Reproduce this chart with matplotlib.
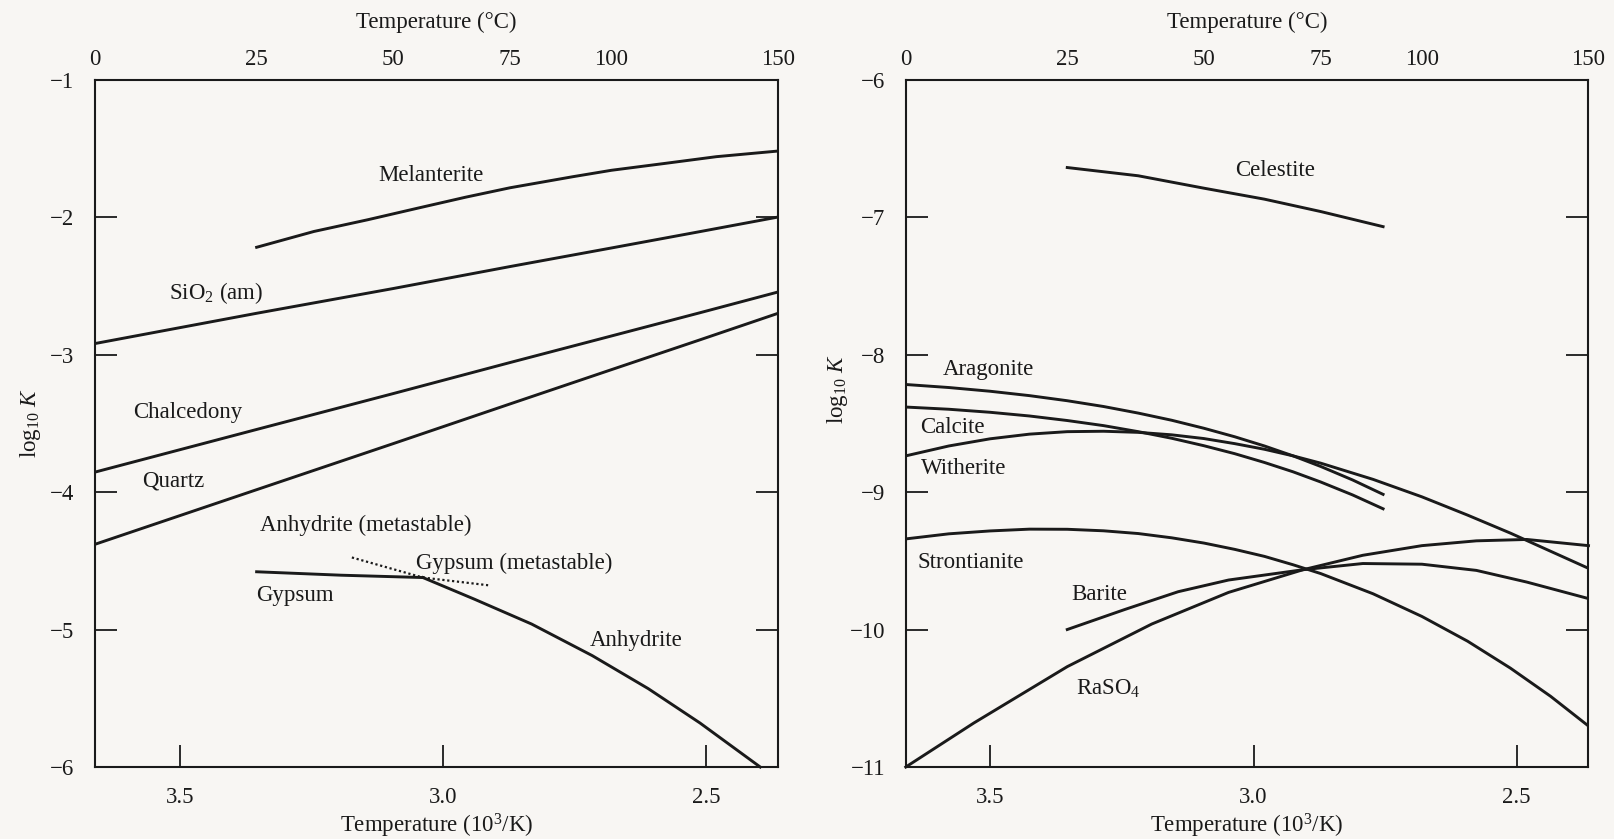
import matplotlib
matplotlib.use("Agg")
import matplotlib.pyplot as plt
import numpy as np

plt.rcParams['font.family'] = ['Liberation Serif', 'DejaVu Serif']
plt.rcParams['mathtext.fontset'] = 'custom'
plt.rcParams['mathtext.rm'] = 'Liberation Serif'
plt.rcParams['mathtext.it'] = 'Liberation Serif:italic'

# --- left panel: silica, melanterite, gypsum/anhydrite (T in degC, log10 K)
mel_t = [25, 35, 45, 55, 65, 75, 90, 100, 115, 130, 150]
mel_k = [-2.22, -2.105, -2.02, -1.935, -1.856, -1.787, -1.707, -1.66, -1.609, -1.561, -1.52]

silica_t = [0, 25, 50, 75, 100, 125, 150]
sio2_k = [-2.92, -2.70, -2.52, -2.36, -2.225, -2.106, -2.0]
chalc_k = [-3.855, -3.545, -3.284, -3.058, -2.865, -2.696, -2.545]
quartz_k = [-4.38, -3.983, -3.648, -3.359, -3.110, -2.893, -2.70]

gyp_t = [25, 40, 56]
gyp_k = [-4.58, -4.605, -4.622]
gyp_meta_t = [56, 70]
gyp_meta_k = [-4.622, -4.678]
anh_meta_t = [42, 56]
anh_meta_k = [-4.476, -4.622]
anh_t = [56, 67, 80, 95, 110, 125, 144]
anh_k = [-4.622, -4.78, -4.96, -5.19, -5.43, -5.68, -6.0]

# --- right panel: carbonates and sulfates
cel_t = [25, 37.5, 50, 62.5, 75, 90]
cel_k = [-6.64, -6.70, -6.79, -6.87, -6.96, -7.07]

carb_t = [0, 6.25, 12.5, 18.75, 25, 31.25, 37.5, 43.75, 50, 56.25, 62.5, 68.75,
          75, 82.5, 90]
arag_k = [-8.218, -8.240, -8.267, -8.299, -8.336, -8.378, -8.426, -8.478, -8.536,
          -8.598, -8.665, -8.737, -8.814, -8.912, -9.017]
calc_k = [-8.382, -8.398, -8.420, -8.447, -8.480, -8.517, -8.561, -8.609, -8.663,
          -8.721, -8.785, -8.853, -8.927, -9.021, -9.122]

full_t = [0, 6.25, 12.5, 18.75, 25, 31.25, 37.5, 43.75, 50, 56.25, 62.5, 68.75,
          75, 87.5, 100, 112.5, 125, 137.5, 150]
with_k = [-8.737, -8.665, -8.613, -8.579, -8.561, -8.558, -8.566, -8.584, -8.611,
          -8.648, -8.689, -8.737, -8.790, -8.908, -9.035, -9.168, -9.299, -9.431,
          -9.555]
stron_k = [-9.341, -9.304, -9.283, -9.270, -9.271, -9.282, -9.302, -9.333, -9.371,
           -9.417, -9.468, -9.529, -9.593, -9.740, -9.905, -10.085, -10.281,
           -10.486, -10.702]

bar_t = [25, 35, 45, 55, 71, 85, 100, 115, 130, 150]
bar_k = [-10.0, -9.855, -9.725, -9.64, -9.565, -9.52, -9.525, -9.57, -9.655, -9.775]
ra_t = [0, 10, 25, 40, 55, 71, 85, 100, 115, 130, 150]
ra_k = [-11.0, -10.68, -10.27, -9.96, -9.73, -9.565, -9.46, -9.39, -9.355, -9.345, -9.39]

top_ticks = [0, 25, 50, 75, 100, 150]
bottom_ticks = [3.5, 3.0, 2.5]

INK = '#1a1a1a'
BG = '#f8f6f3'
FS = 16.5


def inv_t(t):
    # degC -> 10^3/K
    return 1000.0 / (np.asarray(t, dtype=float) + 273.15)


def to_c(x):
    # 10^3/K -> degC
    return 1000.0 / np.asarray(x, dtype=float) - 273.15


fig = plt.figure(figsize=(16.14, 8.39), dpi=100, facecolor=BG)
ax1 = fig.add_axes([0.0589, 0.0858, 0.4232, 0.8194])
ax2 = fig.add_axes([0.5612, 0.0858, 0.4230, 0.8194])


def setup(ax, ylo, yhi, ylab_x, ylab_y):
    ax.set_facecolor(BG)
    ax.set_xlim(inv_t(0), inv_t(150))
    ax.set_ylim(ylo, yhi)
    ax.set_xticks(bottom_ticks)
    ax.set_xticklabels(['%.1f' % v for v in bottom_ticks])
    ax.set_yticks(range(ylo, yhi + 1))
    ax.yaxis.set_major_formatter(plt.FuncFormatter(lambda v, p: '\u2212%d' % abs(v)))
    ax.tick_params(axis='x', direction='in', length=16, width=1.3, colors=INK,
                   labelsize=FS, pad=14.5)
    ax.tick_params(axis='y', direction='in', length=16, width=1.3, colors=INK,
                   labelsize=FS, pad=15, right=True)
    for s in ax.spines.values():
        s.set_linewidth(1.5)
        s.set_color(INK)
    ax.set_xlabel('Temperature (10$^3$/K)', fontsize=FS, color=INK, labelpad=2.5)
    ax.set_ylabel('log$_{10}$ $K$', fontsize=FS, color=INK)
    ax.yaxis.set_label_coords(ylab_x, ylab_y)
    sec = ax.secondary_xaxis('top', functions=(to_c, inv_t))
    sec.set_xticks(top_ticks)
    sec.set_xticklabels([str(v) for v in top_ticks])
    sec.tick_params(length=0, labelsize=FS, pad=7, colors=INK)
    sec.spines['top'].set_visible(False)
    sec.set_xlabel('Temperature (\u00b0C)', fontsize=FS, color=INK, labelpad=15)


setup(ax1, -6, -1, -0.076, 0.50)
setup(ax2, -11, -6, -0.082, 0.55)

lw = 2.1
ax1.plot(inv_t(mel_t), mel_k, color=INK, lw=lw)
ax1.plot(inv_t(silica_t), sio2_k, color=INK, lw=lw)
ax1.plot(inv_t(silica_t), chalc_k, color=INK, lw=lw)
ax1.plot(inv_t(silica_t), quartz_k, color=INK, lw=lw)
ax1.plot(inv_t(gyp_t), gyp_k, color=INK, lw=lw)
ax1.plot(inv_t(anh_t), anh_k, color=INK, lw=lw, clip_on=False)
ax1.plot(inv_t(gyp_meta_t), gyp_meta_k, color=INK, lw=1.6, ls=(0, (1, 1.2)))
ax1.plot(inv_t(anh_meta_t), anh_meta_k, color=INK, lw=1.6, ls=(0, (1, 1.2)))

labels1 = [
    ('Melanterite', 0.491, 0.861),
    ('SiO$_2$ (am)', 0.177, 0.690),
    ('Chalcedony', 0.135, 0.515),
    ('Quartz', 0.114, 0.416),
    ('Anhydrite (metastable)', 0.396, 0.352),
    ('Gypsum (metastable)', 0.614, 0.296),
    ('Gypsum', 0.293, 0.249),
    ('Anhydrite', 0.792, 0.184),
]
for txt, fx, fy in labels1:
    ax1.text(fx, fy, txt, transform=ax1.transAxes, ha='center', va='center',
             fontsize=FS, color=INK)

ax2.plot(inv_t(cel_t), cel_k, color=INK, lw=lw)
ax2.plot(inv_t(carb_t), arag_k, color=INK, lw=lw)
ax2.plot(inv_t(carb_t), calc_k, color=INK, lw=lw)
ax2.plot(inv_t(full_t), with_k, color=INK, lw=lw)
ax2.plot(inv_t(full_t), stron_k, color=INK, lw=lw)
ax2.plot(inv_t(bar_t), bar_k, color=INK, lw=lw)
ax2.plot(inv_t(ra_t), ra_k, color=INK, lw=lw, clip_on=False)

labels2 = [
    ('Celestite', 0.541, 0.867),
    ('Aragonite', 0.121, 0.578),
    ('Calcite', 0.068, 0.494),
    ('Witherite', 0.085, 0.434),
    ('Strontianite', 0.095, 0.298),
    ('Barite', 0.284, 0.251),
    ('RaSO$_4$', 0.297, 0.114),
]
for txt, fx, fy in labels2:
    ax2.text(fx, fy, txt, transform=ax2.transAxes, ha='center', va='center',
             fontsize=FS, color=INK)

fig.savefig('out.png', dpi=100, facecolor=BG)
